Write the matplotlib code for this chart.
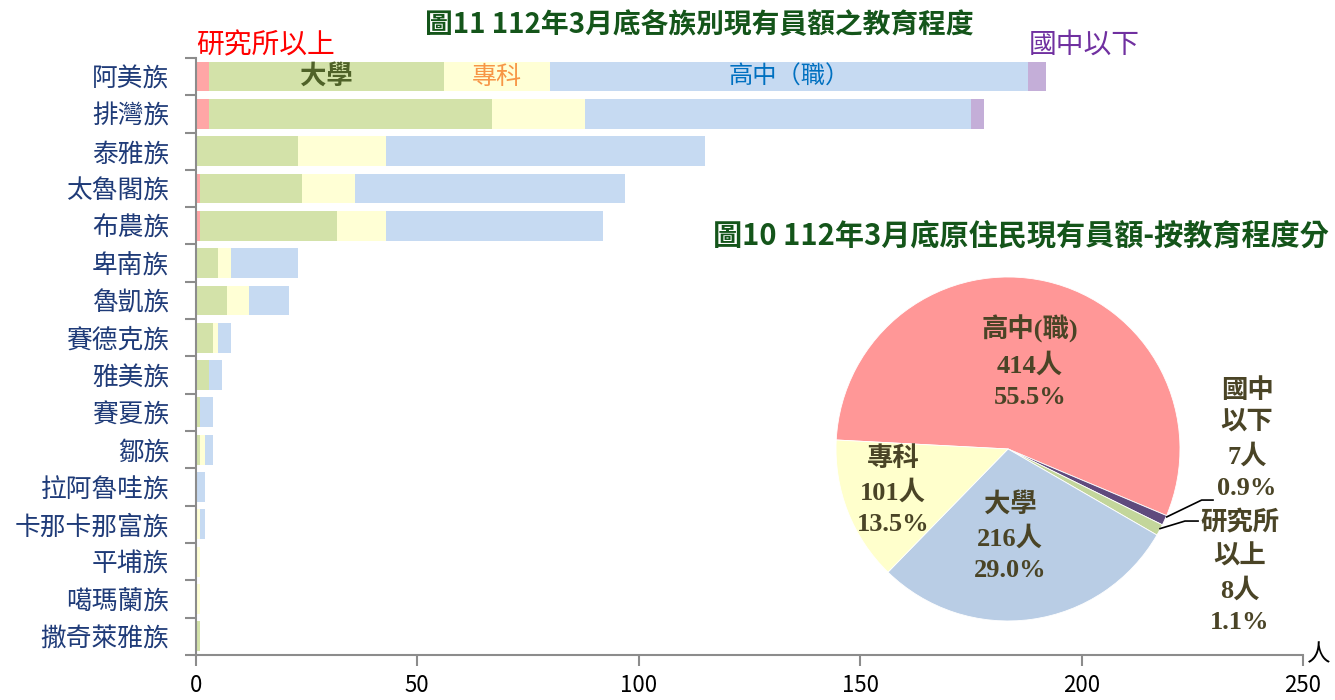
import numpy as np
import matplotlib
matplotlib.use("Agg")
import matplotlib.pyplot as plt

CJK = ['Noto Sans CJK TC', 'DejaVu Sans']
SERIF = ['Liberation Serif', 'Noto Sans CJK TC']
plt.rcParams['font.family'] = CJK

# ---- data: 圖11 各族別教育程度 (人) ----
tribes = ['阿美族', '排灣族', '泰雅族', '太魯閣族', '布農族', '卑南族', '魯凱族', '賽德克族',
          '雅美族', '賽夏族', '鄒族', '拉阿魯哇族', '卡那卡那富族', '平埔族', '噶瑪蘭族', '撒奇萊雅族']
grad_school = [3, 3, 0, 1, 1, 0, 0, 0, 0, 0, 0, 0, 0, 0, 0, 0]
university = [53, 64, 23, 23, 31, 5, 7, 4, 3, 1, 1, 0, 0, 0, 0, 1]
college = [24, 21, 20, 12, 11, 3, 5, 1, 0, 0, 1, 0, 1, 1, 1, 0]
high_school = [108, 87, 72, 61, 49, 15, 9, 3, 3, 3, 2, 2, 1, 0, 0, 0]
junior_high = [4, 3, 0, 0, 0, 0, 0, 0, 0, 0, 0, 0, 0, 0, 0, 0]
x_ticks = [0, 50, 100, 150, 200, 250]

# ---- data: 圖10 全體教育程度 (pie order) ----
pie_names = ['高中(職)', '國中\n以下', '研究所\n以上', '大學', '專科']
pie_values = [414, 7, 8, 216, 101]

bar_colors = ['#FFA6A6', '#D3E2A9', '#FFFFD5', '#C6DAF2', '#C4AED8']
pie_colors = ['#FF9797', '#5F4A7D', '#C3D69B', '#B9CDE5', '#FFFFCC']
axis_gray = '#8C8C8C'
title_green = '#14551A'
label_olive = '#4A4426'

fig = plt.figure(figsize=(13.35, 7), dpi=100)

# ---------------- bar chart ----------------
ax = fig.add_axes([0.1466, 0.0643, 0.8294, 0.853])
y = np.arange(len(tribes))
left = np.zeros(len(tribes))
series = [grad_school, university, college, high_school, junior_high]
for vals, c in zip(series, bar_colors):
    ax.barh(y, vals, left=left, height=0.8, color=c, linewidth=0)
    left += np.array(vals)

ax.set_xlim(0, 250)
ax.set_ylim(len(tribes) - 0.5, -0.5)
ax.set_xticks(x_ticks)
ax.set_xticklabels([str(t) for t in x_ticks], fontsize=16)
ax.set_yticks(y)
ax.set_yticklabels(tribes, fontsize=18.5, color='#1F3B78')
ax.set_yticks(np.arange(-0.5, len(tribes) + 0.5, 1), minor=True)
ax.tick_params(axis='y', which='major', length=0, pad=19)
ax.tick_params(axis='y', which='minor', length=8, width=1.5, color=axis_gray)
ax.tick_params(axis='x', length=8, width=1.5, color=axis_gray, pad=6)
for s in ['top', 'right']:
    ax.spines[s].set_visible(False)
for s in ['left', 'bottom']:
    ax.spines[s].set_color(axis_gray)
    ax.spines[s].set_linewidth(1.5)
ax.text(1.004, 0, '人', transform=ax.transAxes, fontsize=17, va='center', ha='left')

# segment labels on the first bar
cum = np.cumsum([s[0] for s in series])
ax.text((cum[0] + cum[1]) / 2, 0, '大學', fontsize=19, fontweight='bold',
        color='#4F6228', ha='center', va='center')
ax.text((cum[1] + cum[2]) / 2, 0, '專科', fontsize=18, color='#F79646',
        ha='center', va='center')
ax.text((cum[2] + cum[3]) / 2, 0, '高中（職）', fontsize=17.5, color='#0070C0',
        ha='center', va='center')
ax.text(0, -0.85, '研究所以上', fontsize=20, color='#FF0000', ha='left',
        va='center', clip_on=False)
ax.text(cum[3], -0.85, '國中以下', fontsize=20, color='#7030A0', ha='left',
        va='center', clip_on=False)

fig.text(0.5236, 0.964, '圖11 112年3月底各族別現有員額之教育程度', fontsize=20,
         fontweight='bold', color=title_green, ha='center', va='center')

# ---------------- pie chart ----------------
pax = fig.add_axes([0.6262, 0.1129, 0.2577, 0.4914])
pax.pie(pie_values, colors=pie_colors, startangle=177, counterclock=False,
        radius=1, wedgeprops=dict(linewidth=0.6, edgecolor='white'))
pax.set_xlim(-1, 1)
pax.set_ylim(-1, 1)
pax.set_aspect('equal')

total = sum(pie_values)
label_pos = [(0.128, 0.506), (1.39, 0.058), (1.349, -0.715), (0.012, -0.512), (-0.669, -0.244)]
for name, v, (lx, ly) in zip(pie_names, pie_values, label_pos):
    txt = f'{name}\n{v}人\n{v / total * 100:.1f}%'
    pax.text(lx, ly, txt, family=SERIF, fontsize=19, fontweight='bold',
             color=label_olive, ha='center', va='center', linespacing=1.47,
             clip_on=False)

# leader lines for the two thin slices
pax.plot([0.923, 1.126, 1.192], [-0.395, -0.297, -0.297], color='black',
         lw=1.2, clip_on=False)
pax.plot([0.884, 1.029, 1.105], [-0.463, -0.419, -0.419], color='black',
         lw=1.2, clip_on=False)

fig.text(0.7648, 0.664, '圖10 112年3月底原住民現有員額-按教育程度分', fontsize=21,
         fontweight='bold', color=title_green, ha='center', va='center')

fig.savefig('out.png', dpi=100)
